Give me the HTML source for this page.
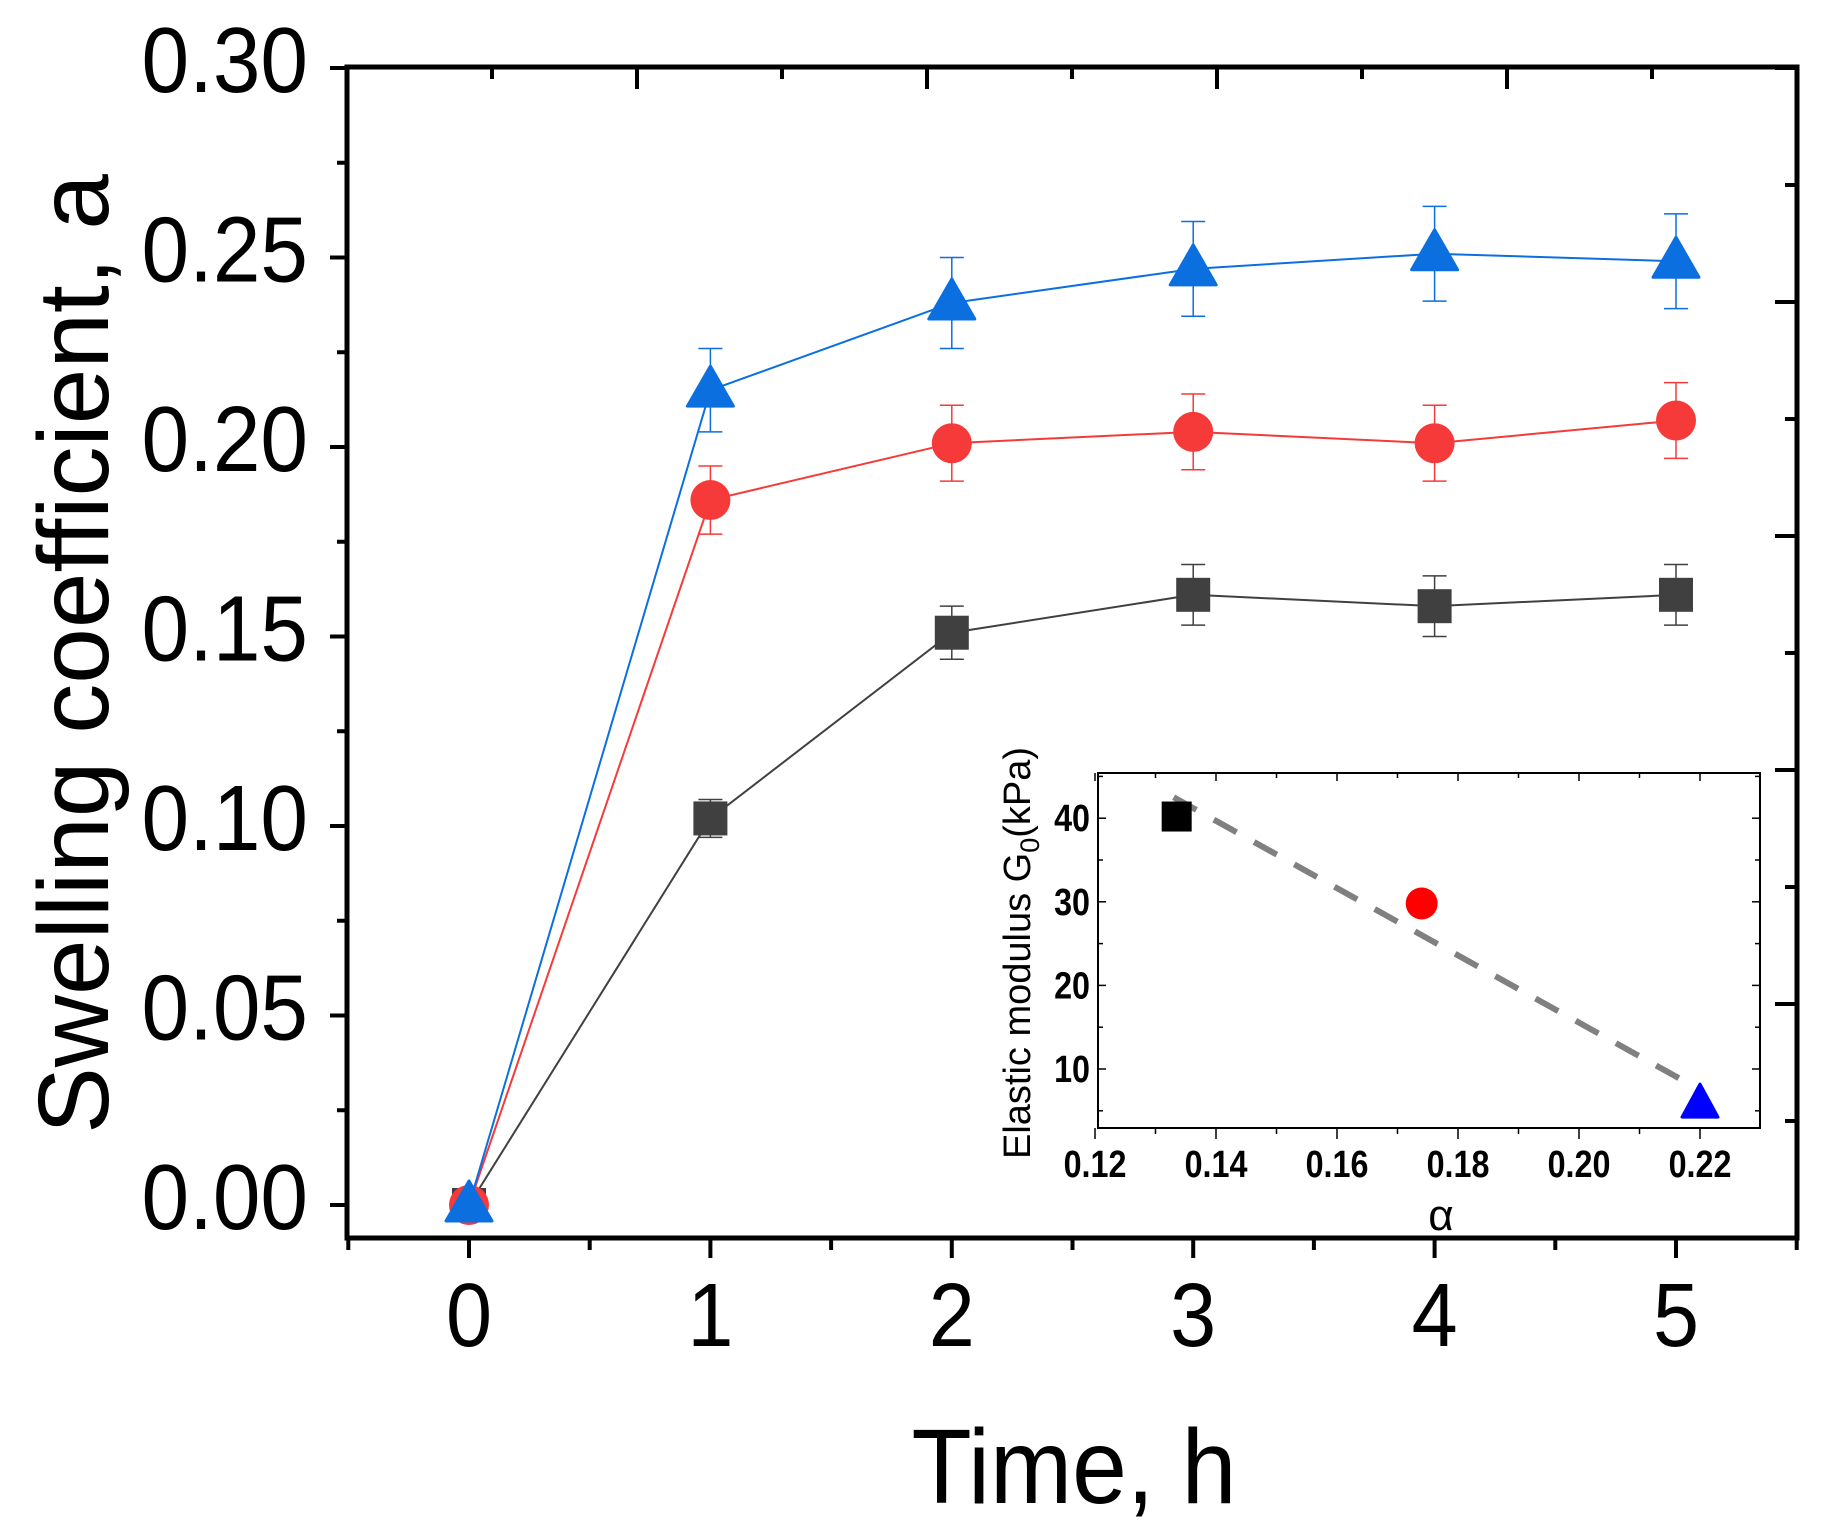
<!DOCTYPE html>
<html><head><meta charset="utf-8"><style>
html,body{margin:0;padding:0;background:#fff;}
svg{display:block;}
text{font-family:"Liberation Sans",sans-serif;}
</style></head><body>
<svg width="1828" height="1525" viewBox="0 0 1828 1525" xmlns="http://www.w3.org/2000/svg">
<g id="main"></g>
</svg>
<script>
const NS="http://www.w3.org/2000/svg";
const g=document.getElementById('main');
function el(t,a,txt){const e=document.createElementNS(NS,t);for(const k in a)e.setAttribute(k,a[k]);if(txt!==undefined)e.textContent=txt;g.appendChild(e);return e;}
function tx(x,y,sx,a,txt){a.x=0;a.y=0;a.transform=`translate(${x},${y}) scale(${sx},1)`;return el('text',a,txt);}
const L=347,R=1797,T=67,B=1238;
const X=v=>469+v*241.4, Y=v=>1205-v*(1137/0.30);
el('rect',{x:L,y:T,width:R-L,height:B-T,fill:'none',stroke:'#000','stroke-width':5});
for(let i=0;i<=12;i++){const v=i*0.025,y=Y(v);const maj=i%2==0;el('line',{x1:L,x2:L-(maj?17:10),y1:y,y2:y,stroke:'#000','stroke-width':4});}
for(let i=-1;i<=11;i++){const v=i*0.5,x=X(v);const maj=i%2==0;el('line',{x1:x,x2:x,y1:B,y2:B+(maj?20:12),stroke:'#000','stroke-width':4});}
for(let i=0;i<=10;i++){const x=347+i*145;if(x>R)break;const maj=i%2==0;el('line',{x1:x,x2:x,y1:T,y2:T+(maj?22:12),stroke:'#000','stroke-width':4});}
for(let i=0;i<=10;i++){const y=B-i*117;if(y<T)break;const maj=i%2==0;el('line',{x1:R,x2:R-(maj?22:12),y1:y,y2:y,stroke:'#000','stroke-width':4});}
['0.00','0.05','0.10','0.15','0.20','0.25','0.30'].forEach((s,i)=>tx(308,Y(i*0.05)+24,0.92,{'text-anchor':'end','font-size':93},s));
for(let i=0;i<=5;i++)tx(X(i),1346,0.92,{'text-anchor':'middle','font-size':90},String(i));
tx(1074,1503,0.93,{'text-anchor':'middle','font-size':106},'Time, h');
el('text',{x:0,y:0,'text-anchor':'middle','font-size':100,transform:'translate(108,654) rotate(-90)'},'Swelling coefficient, a');
const series=[
 {c:'#404040',v:[0,0.102,0.151,0.161,0.158,0.161],e:[0,0.005,0.007,0.008,0.008,0.008],m:'s'},
 {c:'#f63a3a',v:[0,0.186,0.201,0.204,0.201,0.207],e:[0,0.009,0.01,0.01,0.01,0.01],m:'c'},
 {c:'#0b6fe0',v:[0,0.215,0.238,0.247,0.251,0.249],e:[0,0.011,0.012,0.0125,0.0125,0.0125],m:'t'}];
series.forEach(s=>{
 el('polyline',{points:s.v.map((v,i)=>X(i)+','+Y(v)).join(' '),fill:'none',stroke:s.c,'stroke-width':2});
 s.v.forEach((v,i)=>{if(!s.e[i])return;const x=X(i);const y1=Y(v+s.e[i]),y2=Y(v-s.e[i]);
  el('line',{x1:x,x2:x,y1:y1,y2:y2,stroke:s.c,'stroke-width':1.5});
  el('line',{x1:x-12,x2:x+12,y1:y1,y2:y1,stroke:s.c,'stroke-width':1.5});
  el('line',{x1:x-12,x2:x+12,y1:y2,y2:y2,stroke:s.c,'stroke-width':1.5});});
 s.v.forEach((v,i)=>{const x=X(i),y=Y(v);
  if(s.m=='s')el('rect',{x:x-17,y:y-17,width:34,height:34,fill:s.c});
  else if(s.m=='c')el('circle',{cx:x,cy:y,r:20,fill:s.c});
  else el('polygon',{points:`${x},${y-24} ${x-23},${y+16} ${x+23},${y+16}`,fill:s.c,stroke:s.c,'stroke-width':3,'stroke-linejoin':'round'});});
});
const iL=1098,iR=1760,iT=773,iB=1128;
const IX=v=>1095+(v-0.12)/0.02*121, IY=v=>1069-(v-10)*8.36;
el('rect',{x:iL,y:iT,width:iR-iL,height:iB-iT,fill:'#fff',stroke:'#000','stroke-width':2});
for(let i=0;i<=11;i++){const v=0.12+i*0.01,x=IX(v);if(x>iR)break;const maj=i%2==0;
 el('line',{x1:x,x2:x,y1:iB,y2:iB+(maj?11:6),stroke:'#000','stroke-width':1.5});
 el('line',{x1:x,x2:x,y1:iT,y2:iT+(maj?8:5),stroke:'#000','stroke-width':1.5});
 if(maj)tx(x,iB+49,0.85,{'text-anchor':'middle','font-size':38,'font-weight':'bold'},(v).toFixed(2));}
for(let v=5;v<=45;v+=5){const y=IY(v);if(y<iT||y>iB)continue;const maj=v%10==0;
 el('line',{x1:iL,x2:iL+(maj?8:5),y1:y,y2:y,stroke:'#000','stroke-width':1.5});
 el('line',{x1:iR,x2:iR-(maj?8:5),y1:y,y2:y,stroke:'#000','stroke-width':1.5});
 if(maj)tx(iL-8,y+13,0.85,{'text-anchor':'end','font-size':38,'font-weight':'bold'},String(v));}
el('text',{x:1441,y:1230,'text-anchor':'middle','font-size':44,'font-family':'Liberation Serif'},'α');
const yl=el('text',{x:0,y:0,'text-anchor':'middle','font-size':38,transform:'translate(1030,953) rotate(-90)'});
yl.innerHTML='Elastic modulus G<tspan font-size="27" dy="9">0</tspan><tspan dy="-9">(kPa)</tspan>';
el('line',{x1:IX(0.133),y1:IY(42.5),x2:IX(0.22),y2:IY(7.5),stroke:'#808080','stroke-width':6,'stroke-dasharray':'26 20'});
el('rect',{x:IX(0.1335)-15,y:IY(40.2)-15,width:30,height:30,fill:'#000'});
el('ellipse',{cx:IX(0.174),cy:IY(29.8),rx:16,ry:16,fill:'#f00'});
{const x=IX(0.22),y=IY(5.8);el('polygon',{points:`${x},${y-20} ${x-18},${y+13} ${x+18},${y+13}`,fill:'#00f',stroke:'#00f','stroke-width':3,'stroke-linejoin':'round'});}
</script>
</body></html>
